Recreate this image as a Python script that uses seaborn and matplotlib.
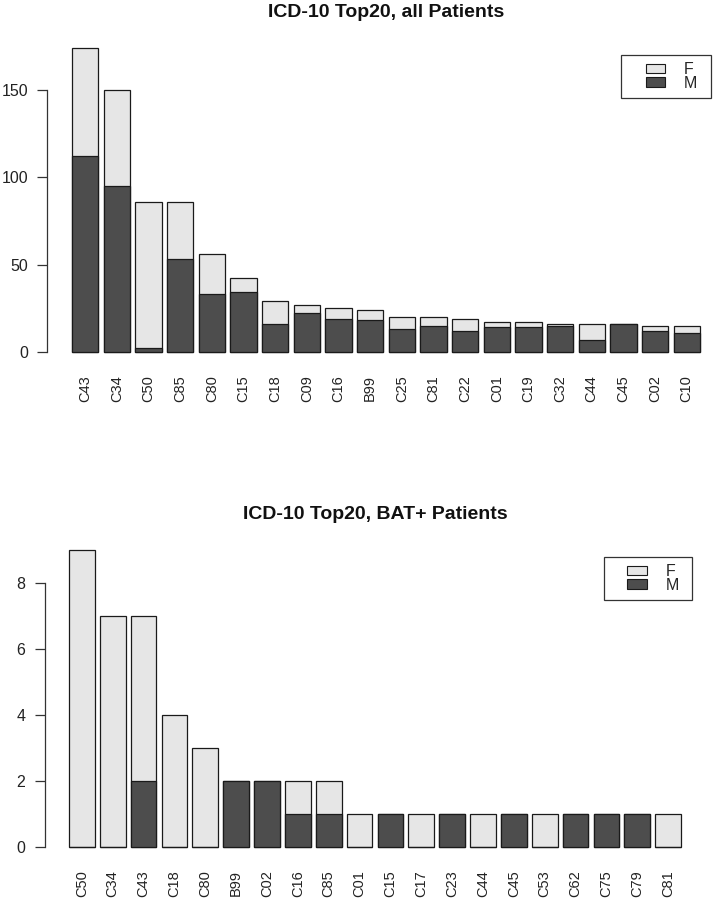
import matplotlib
matplotlib.use("Agg")
import matplotlib.pyplot as plt
import seaborn as sns
import pandas as pd
from matplotlib.patches import Patch, Rectangle

# ---- data ----
codes_all = ["C43", "C34", "C50", "C85", "C80", "C15", "C18", "C09", "C16", "B99",
             "C25", "C81", "C22", "C01", "C19", "C32", "C44", "C45", "C02", "C10"]
total_all = [174, 150, 86, 86, 56, 42, 29, 27, 25, 24,
             20, 20, 19, 17, 17, 16, 16, 16, 15, 15]
male_all = [112, 95, 2, 53, 33, 34, 16, 22, 19, 18,
            13, 15, 12, 14, 14, 15, 7, 16, 12, 11]

codes_bat = ["C50", "C34", "C43", "C18", "C80", "B99", "C02", "C16", "C85", "C01",
             "C15", "C17", "C23", "C44", "C45", "C53", "C62", "C75", "C79", "C81"]
total_bat = [9, 7, 7, 4, 3, 2, 2, 2, 2, 1,
             1, 1, 1, 1, 1, 1, 1, 1, 1, 1]
male_bat = [0, 0, 2, 0, 0, 2, 2, 1, 1, 0,
            1, 0, 1, 0, 1, 0, 1, 1, 1, 0]

yticks_all = [0, 50, 100, 150]
yticks_bat = [0, 2, 4, 6, 8]

LIGHT = "#e6e6e6"
DARK = "#4d4d4d"
EDGE = "#1a1a1a"
FONT = ["Liberation Sans", "DejaVu Sans"]

sns.set_style("white")
plt.rcParams["font.family"] = FONT

fig = plt.figure(figsize=(7.14, 8.99), dpi=100)
W, H = 714.0, 899.0


def panel(rect_px, codes, total, male, yticks, title):
    left, top, right, bottom = rect_px
    ax = fig.add_axes([left / W, (H - bottom) / H, (right - left) / W, (bottom - top) / H])
    df = pd.DataFrame({"code": codes, "total": total, "male": male})
    bw = 1 / 1.2
    sns.barplot(data=df, x="code", y="total", order=codes, color=LIGHT, saturation=1,
                edgecolor=EDGE, linewidth=0.9, width=bw, ax=ax)
    sns.barplot(data=df, x="code", y="male", order=codes, color=DARK, saturation=1,
                edgecolor=EDGE, linewidth=0.9, width=bw, ax=ax)
    n = len(codes)
    # R barplot extents: space 0.2, width 1, 4% padding
    r_lo, r_hi = 0.2, 1.2 * n
    pad = 0.04 * (r_hi - r_lo)
    ax.set_xlim((r_lo - pad - 0.7) / 1.2, (r_hi + pad - 0.7) / 1.2)
    ymax = max(total)
    ax.set_ylim(-0.04 * ymax, 1.04 * ymax)
    for s in ["top", "right", "bottom"]:
        ax.spines[s].set_visible(False)
    ax.spines["left"].set_bounds(yticks[0], yticks[-1])
    ax.spines["left"].set_color("#333333")
    ax.spines["left"].set_linewidth(0.9)
    ax.set_yticks(yticks)
    ax.set_yticklabels([str(t) for t in yticks])
    ax.tick_params(axis="y", length=7.2, width=0.9, color="#333333", labelsize=11.5,
                   labelcolor="#222222", pad=6.5, left=True)
    ax.tick_params(axis="x", length=0, labelsize=10.5, labelcolor="#222222", pad=8,
                   labelrotation=90)
    ax.set_xlabel("")
    ax.set_ylabel("")
    ax.grid(False)
    ax.set_title(title, fontsize=14, fontweight="bold", pad=13.5, color="#111111")
    return ax


ax1 = panel((47, 35.8, 725, 364), codes_all, total_all, male_all, yticks_all,
            "ICD-10 Top20, all Patients")
ax2 = panel((44.5, 538.1, 705.5, 858.9), codes_bat, total_bat, male_bat, yticks_bat,
            "ICD-10 Top20, BAT+ Patients")


def legend(ax, box_px, axrect_px):
    left, top, right, bottom = axrect_px
    bx0, by0, bx1, by1 = box_px
    aw, ah = right - left, bottom - top
    x0 = (bx0 - left) / aw
    x1 = (bx1 - left) / aw
    y1 = 1 - (by0 - top) / ah
    y0 = 1 - (by1 - top) / ah
    ax.add_patch(Rectangle((x0, y0), x1 - x0, y1 - y0, transform=ax.transAxes,
                           fill=False, edgecolor="#333333", linewidth=0.9,
                           clip_on=False, zorder=5))
    handles = [Patch(facecolor=LIGHT, edgecolor=EDGE, linewidth=0.8, label="F"),
               Patch(facecolor=DARK, edgecolor=EDGE, linewidth=0.8, label="M")]
    ax.legend(handles=handles, loc="center", bbox_to_anchor=((x0 + x1) / 2 + 0.008, (y0 + y1) / 2),
              frameon=False, fontsize=11.5, handlelength=1.2, handleheight=0.5,
              handletextpad=1.2, labelspacing=-0.1, borderpad=0.1)


legend(ax1, (621, 55, 711, 98), (47, 35.8, 725, 364))
legend(ax2, (604, 557, 692, 600), (44.5, 538.1, 705.5, 858.9))

fig.savefig("out.png", dpi=100)
